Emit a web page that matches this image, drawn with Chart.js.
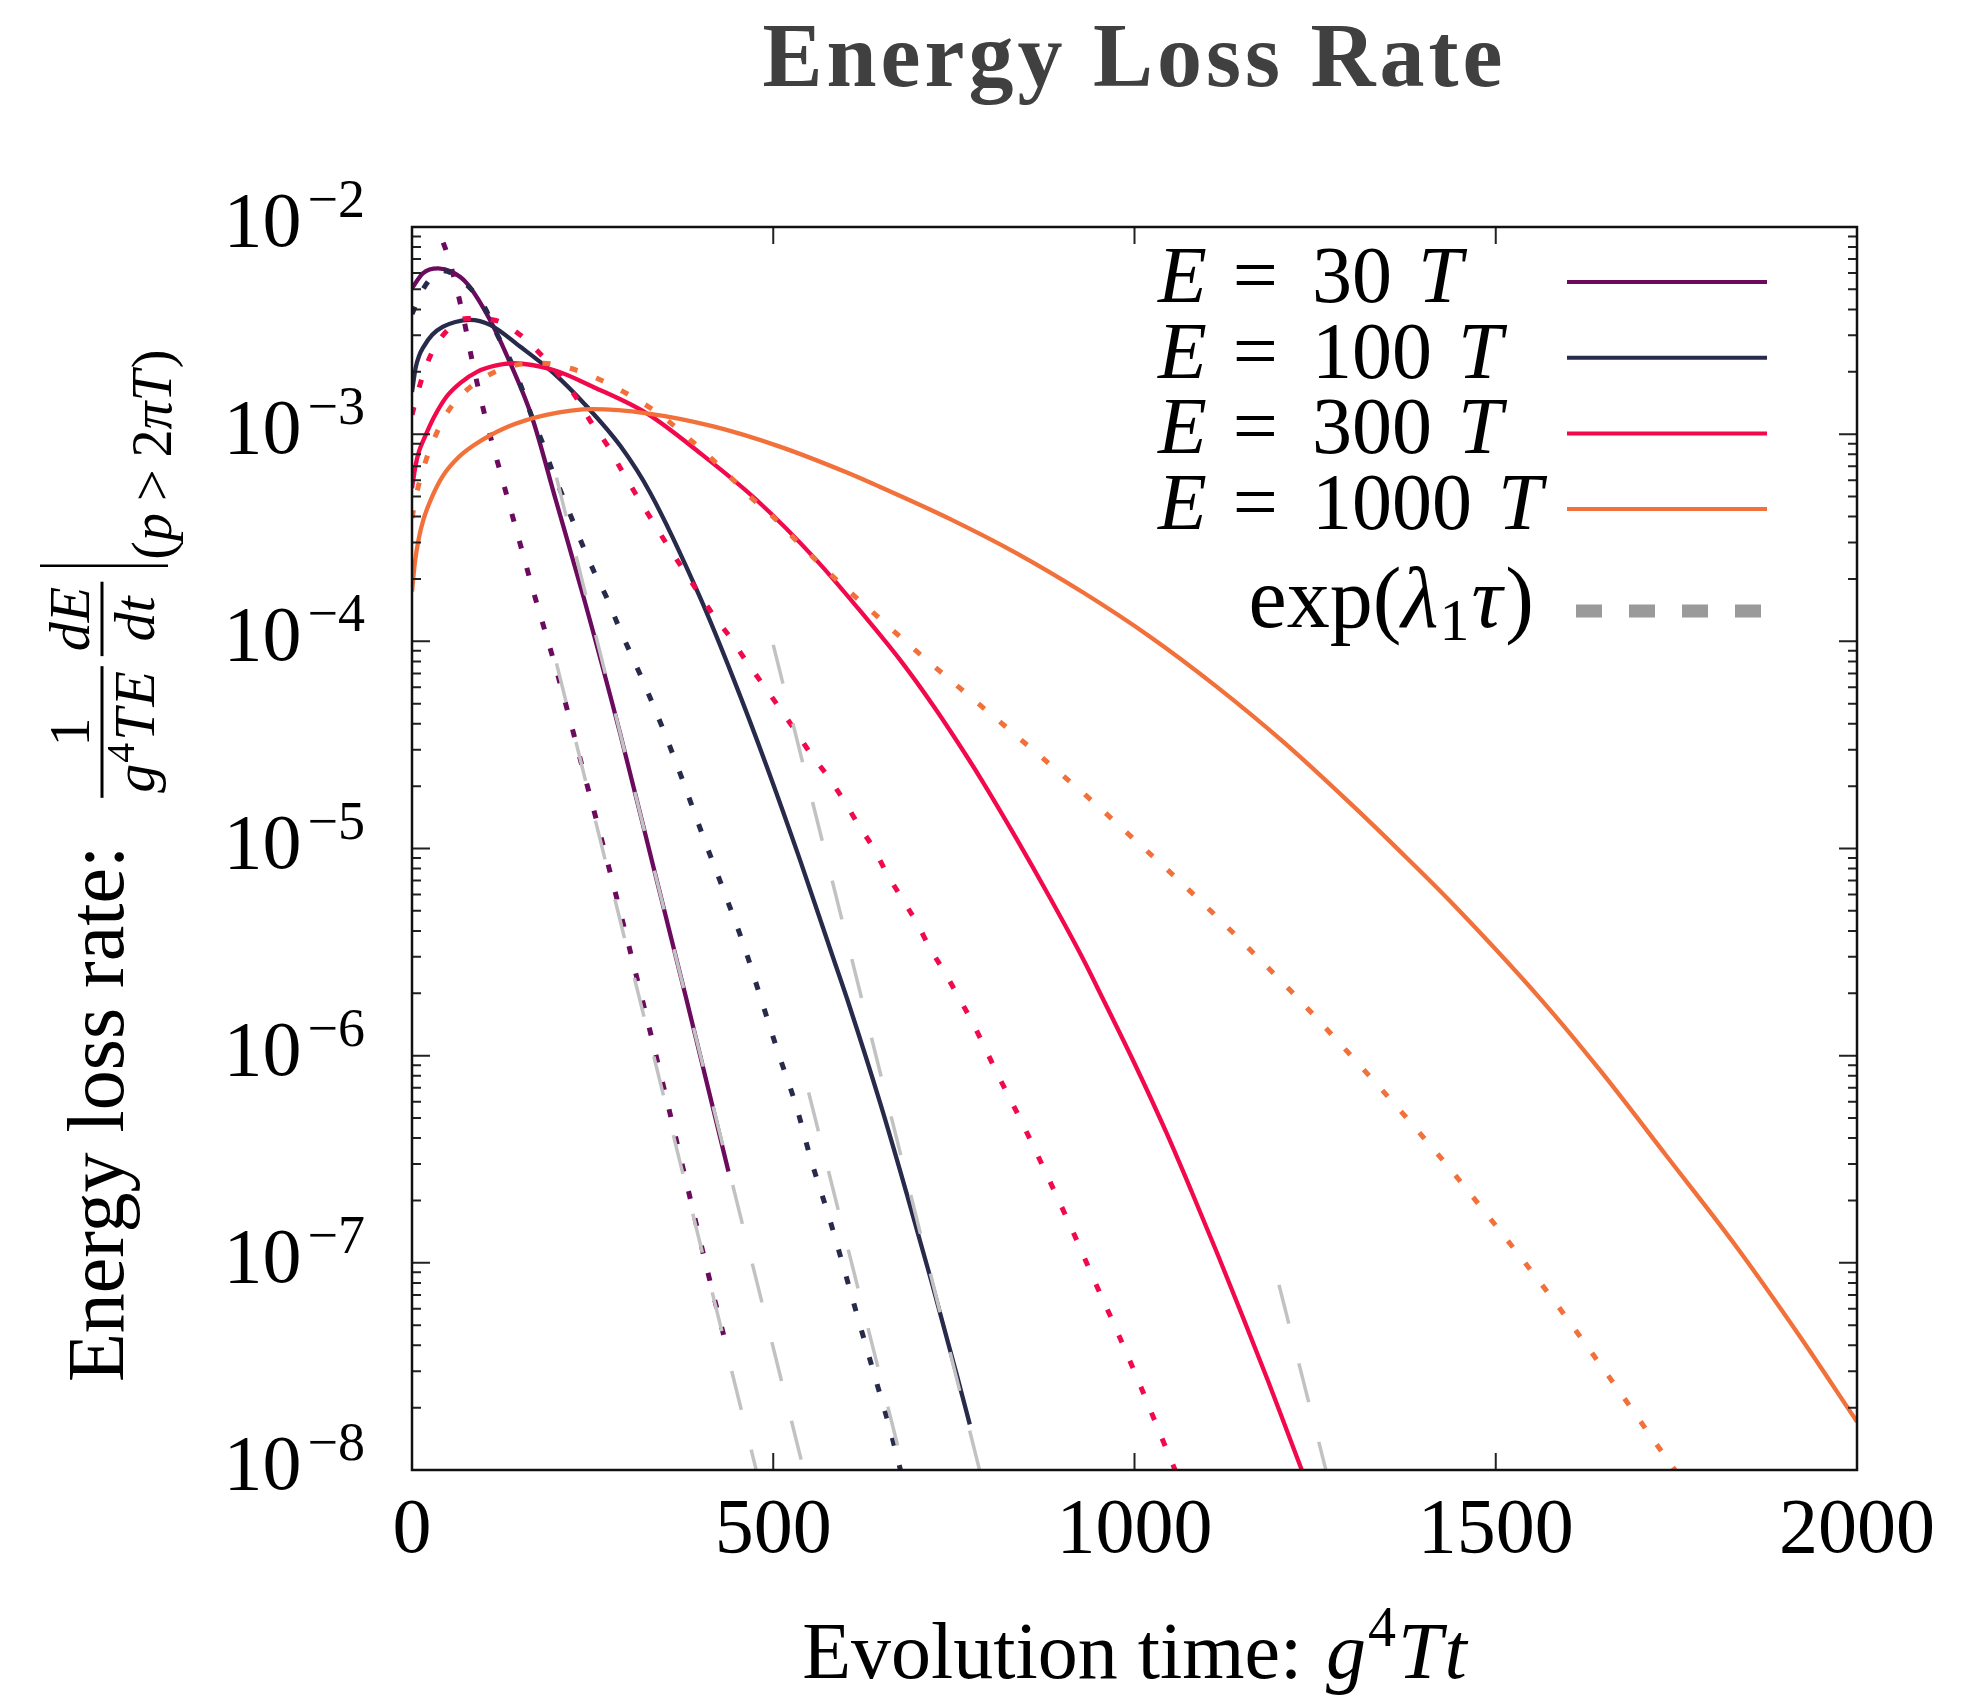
<!DOCTYPE html>
<html>
<head>
<meta charset="utf-8">
<title>Energy Loss Rate</title>
<script src="https://cdn.jsdelivr.net/npm/chart.js@4.4.1/dist/chart.umd.min.js"></script>
<style>
  html, body { margin: 0; padding: 0; background: #fff; }
  #wrap { width: 1982px; height: 1698px; }
</style>
</head>
<body>
<div id="wrap"><canvas id="myChart" width="1982" height="1698"></canvas></div>
<script>
// values (time g^4 T t, rate)
const e30Time = [0, 15, 36, 55, 76, 108, 136, 166, 199, 238, 288, 334, 380, 438];
const e30Rate = [5.06e-3, 5.98e-3, 6.32e-3, 6.08e-3, 5.35e-3, 3.56e-3, 2.20e-3, 1.21e-3, 4.81e-4, 1.61e-4, 3.60e-5, 8.18e-6, 1.86e-6, 2.76e-7];
const e30DotTime = [28, 36, 50, 69, 85, 103, 124, 145, 168, 200, 221, 239, 260, 279, 316, 352, 380, 408, 438];
const e30DotRate = [1.12e-2, 9.68e-3, 7.19e-3, 3.97e-3, 2.12e-3, 1.15e-3, 6.24e-4, 3.39e-4, 1.74e-4, 7.24e-5, 3.89e-5, 2.24e-5, 1.19e-5, 6.61e-6, 2.04e-6, 6.24e-7, 2.43e-7, 9.44e-8, 3.63e-8];

const e100Time = [0, 5, 10, 16, 28, 43, 60, 80, 108, 150, 196, 242, 288, 330, 399, 445, 491, 537, 583, 604, 649, 684, 719, 754, 772];
const e100Rate = [1.60e-3, 2.09e-3, 2.40e-3, 2.64e-3, 3.02e-3, 3.30e-3, 3.48e-3, 3.56e-3, 3.37e-3, 2.64e-3, 1.97e-3, 1.36e-3, 8.81e-4, 5.19e-4, 1.62e-4, 6.59e-5, 2.49e-5, 8.81e-6, 2.96e-6, 1.80e-6, 5.75e-7, 2.20e-7, 8.13e-8, 2.88e-8, 1.66e-8];
const e100DotTime = [0, 16, 43, 76, 101, 117, 136, 152, 166, 180, 193, 207, 223, 237, 253, 270, 286, 318, 348, 376, 403, 431, 459, 482, 507, 532, 553, 577, 599, 620, 642, 663, 678];
const e100DotRate = [3.80e-3, 5.06e-3, 6.15e-3, 5.25e-3, 4.06e-3, 3.07e-3, 2.28e-3, 1.67e-3, 1.21e-3, 9.20e-4, 6.84e-4, 5.19e-4, 3.78e-4, 2.86e-4, 2.13e-4, 1.61e-4, 1.18e-4, 6.64e-5, 3.73e-5, 2.07e-5, 1.14e-5, 6.31e-6, 3.43e-6, 1.93e-6, 1.03e-6, 5.68e-7, 3.08e-7, 1.67e-7, 9.08e-8, 5.01e-8, 2.72e-8, 1.51e-8, 9.4e-9];

const e300Time = [0, 5, 10, 16, 30, 48, 68, 90, 115, 140, 196, 251, 325, 399, 477, 560, 629, 675, 722, 768, 791, 837, 883, 929, 955, 1002, 1044, 1079, 1115, 1150, 1185, 1214, 1235];
const e300Rate = [5.48e-4, 7.08e-4, 8.32e-4, 9.38e-4, 1.20e-3, 1.52e-3, 1.78e-3, 2.00e-3, 2.14e-3, 2.20e-3, 2.04e-3, 1.69e-3, 1.26e-3, 8.09e-4, 4.81e-4, 2.46e-4, 1.29e-4, 8.18e-5, 4.86e-5, 2.78e-5, 2.07e-5, 1.11e-5, 5.78e-6, 2.92e-6, 1.92e-6, 8.87e-7, 4.26e-7, 2.21e-7, 1.10e-7, 5.47e-8, 2.68e-8, 1.45e-8, 9.3e-9];
const e300DotTime = [0, 11, 25, 43, 76, 113, 150, 177, 205, 228, 246, 270, 290, 309, 329, 352, 373, 394, 417, 440, 463, 486, 509, 533, 553, 576, 597, 618, 639, 657, 678, 699, 717, 738, 756, 776, 811, 846, 882, 913, 945, 977, 1009, 1037, 1060];
const e300DotRate = [1.24e-3, 1.73e-3, 2.37e-3, 3.01e-3, 3.62e-3, 3.56e-3, 3.01e-3, 2.45e-3, 1.90e-3, 1.49e-3, 1.17e-3, 8.87e-4, 6.71e-4, 5.19e-4, 4.00e-4, 2.97e-4, 2.29e-4, 1.77e-4, 1.34e-4, 1.05e-4, 7.98e-5, 6.17e-5, 4.75e-5, 3.60e-5, 2.83e-5, 2.22e-5, 1.72e-5, 1.30e-5, 1.00e-5, 7.60e-6, 5.75e-6, 4.36e-6, 3.30e-6, 2.50e-6, 1.93e-6, 1.44e-6, 8.07e-7, 4.62e-7, 2.51e-7, 1.46e-7, 8.13e-8, 4.58e-8, 2.51e-8, 1.45e-8, 9.3e-9];

const e1000Time = [0, 4, 9, 16, 28, 43, 62, 85, 131, 186, 251, 325, 417, 509, 602, 648, 745, 837, 929, 1022, 1114, 1206, 1298, 1368, 1437, 1563, 1644, 1737, 1829, 1921, 2000];
const e1000Rate = [1.74e-4, 2.40e-4, 3.09e-4, 3.89e-4, 5.01e-4, 6.31e-4, 7.59e-4, 8.81e-4, 1.08e-3, 1.24e-3, 1.32e-3, 1.26e-3, 1.09e-3, 8.71e-4, 6.53e-4, 5.56e-4, 3.89e-4, 2.66e-4, 1.72e-4, 1.05e-4, 6.03e-5, 3.27e-5, 1.66e-5, 9.66e-6, 5.56e-6, 1.86e-6, 8.53e-7, 3.26e-7, 1.25e-7, 4.41e-8, 1.71e-8];
const e1000DotTime = [0, 6.5, 18, 32, 48, 73, 106, 145, 182, 219, 256, 293, 320, 353, 380, 412, 440, 468, 500, 528, 583, 641, 699, 758, 821, 881, 941, 998, 1058, 1114, 1169, 1225, 1277, 1330, 1384, 1434, 1485, 1534, 1582, 1628, 1674, 1720, 1752];
const e1000DotRate = [3.94e-4, 5.19e-4, 7.24e-4, 9.73e-4, 1.26e-3, 1.60e-3, 1.93e-3, 2.16e-3, 2.20e-3, 2.08e-3, 1.86e-3, 1.60e-3, 1.41e-3, 1.17e-3, 9.73e-4, 7.78e-4, 6.24e-4, 4.99e-4, 3.98e-4, 3.16e-4, 2.05e-4, 1.35e-4, 8.91e-5, 5.96e-5, 3.89e-5, 2.58e-5, 1.70e-5, 1.12e-5, 7.19e-6, 4.68e-6, 3.02e-6, 1.91e-6, 1.22e-6, 7.64e-7, 4.68e-7, 2.92e-7, 1.76e-7, 1.07e-7, 6.46e-8, 3.89e-8, 2.32e-8, 1.37e-8, 9.55e-9];

// exp(lambda_1 tau) fits: start and end of each straight (log) segment
const fitTime = [[200, 545], [200, 480], [549, 684], [500, 790], [1200, 1270]];
const fitRate = [[6.17e-4, 9.12e-9], [7.83e-5, 8.9e-9], [6.64e-7, 9.0e-9], [9.62e-5, 8.65e-9], [7.83e-8, 8.5e-9]];

const legendEnergies = ['30', '100', '300', '1000'];
const seriesColors = ['#6c0a5e', '#272a4a', '#f2094c', '#f2703a'];
const xTicks = [0, 500, 1000, 1500, 2000];
const yTicks = [1e-2, 1e-3, 1e-4, 1e-5, 1e-6, 1e-7, 1e-8];
const yTickPowers = ['\u22122', '\u22123', '\u22124', '\u22125', '\u22126', '\u22127', '\u22128'];

const serif = '"Liberation Serif", "Times New Roman", serif';

function pts(t, v) {
  return t.map(function (x, i) { return { x: x, y: v[i] }; });
}

const solidSets = [[e30Time, e30Rate], [e100Time, e100Rate], [e300Time, e300Rate], [e1000Time, e1000Rate]];
const dotSets = [[e30DotTime, e30DotRate], [e100DotTime, e100DotRate], [e300DotTime, e300DotRate], [e1000DotTime, e1000DotRate]];

const datasets = [];
solidSets.forEach(function (s, i) {
  datasets.push({
    data: pts(s[0], s[1]), borderColor: seriesColors[i], borderWidth: 4.3,
    cubicInterpolationMode: 'monotone', order: 8 - 2 * i
  });
  datasets.push({
    data: pts(dotSets[i][0], dotSets[i][1]), borderColor: seriesColors[i], borderWidth: 5,
    borderDash: [8, 20], cubicInterpolationMode: 'monotone', order: 7 - 2 * i
  });
});
fitTime.forEach(function (t, i) {
  datasets.push({
    data: pts(t, fitRate[i]), borderColor: '#c2c2c2', borderWidth: 3.5,
    borderDash: [40, 41], order: 0
  });
});

// draw a run of text pieces: [text, font, dy, gapAfter]
function drawRuns(ctx, x, y, parts) {
  parts.forEach(function (p) {
    ctx.font = p[1];
    ctx.fillText(p[0], x, y + (p[2] || 0));
    x += ctx.measureText(p[0]).width + (p[3] || 0);
  });
  return x;
}
function runsWidth(ctx, parts) {
  let w = 0;
  parts.forEach(function (p) {
    ctx.font = p[1];
    w += ctx.measureText(p[0]).width + (p[3] || 0);
  });
  return w;
}

const decorPlugin = {
  id: 'decor',
  afterDraw: function (chart) {
    const ctx = chart.ctx;
    const a = chart.chartArea;
    const xs = chart.scales.x, ys = chart.scales.y;
    ctx.save();

    // inward ticks, both sides
    ctx.strokeStyle = '#222';
    ctx.lineWidth = 2;
    ctx.beginPath();
    xTicks.forEach(function (v) {
      const px = xs.getPixelForValue(v);
      ctx.moveTo(px, a.bottom); ctx.lineTo(px, a.bottom - 17);
      ctx.moveTo(px, a.top); ctx.lineTo(px, a.top + 17);
    });
    yTicks.forEach(function (v, i) {
      const py = ys.getPixelForValue(v);
      ctx.moveTo(a.left, py); ctx.lineTo(a.left + 18, py);
      ctx.moveTo(a.right, py); ctx.lineTo(a.right - 18, py);
      if (i < yTicks.length - 1) {
        for (let k = 2; k <= 9; k++) {
          const pm = ys.getPixelForValue(yTicks[i + 1] * k);
          ctx.moveTo(a.left, pm); ctx.lineTo(a.left + 9, pm);
          ctx.moveTo(a.right, pm); ctx.lineTo(a.right - 9, pm);
        }
      }
    });
    ctx.stroke();

    ctx.strokeStyle = '#111';
    ctx.lineWidth = 2.5;
    ctx.strokeRect(a.left, a.top, a.right - a.left, a.bottom - a.top);

    ctx.fillStyle = '#000';
    ctx.textBaseline = 'alphabetic';

    // x tick labels
    ctx.textAlign = 'center';
    ctx.font = '78px ' + serif;
    xTicks.forEach(function (v) {
      ctx.fillText(String(v), xs.getPixelForValue(v), 1552);
    });

    // y tick labels 10^n
    ctx.textAlign = 'left';
    yTicks.forEach(function (v, i) {
      const py = ys.getPixelForValue(v);
      const parts = [['10', '78px ' + serif, 0, 6], [yTickPowers[i], '54px ' + serif, -29, 0]];
      const w = runsWidth(ctx, parts);
      drawRuns(ctx, 365 - w, py + 19, parts);
    });

    // x axis title
    const xt = [['Evolution time: ', '80px ' + serif, 0, 4], ['g', 'italic 80px ' + serif, 0, 2],
      ['4', '56px ' + serif, -32, 2], ['T', 'italic 80px ' + serif, 0, 2], ['t', 'italic 80px ' + serif, 0, 0]];
    const xw = runsWidth(ctx, xt);
    drawRuns(ctx, (a.left + a.right) / 2 - xw / 2, 1678, xt);

    // y axis title, rotated
    ctx.save();
    ctx.translate(123, 1382);
    ctx.rotate(-Math.PI / 2);
    let u = drawRuns(ctx, 0, 0, [['Energy loss rate:', '80px ' + serif, 0, 0]]);
    u += 48;
    const fr = '58px ' + serif, fi = 'italic 58px ' + serif;
    const fracs = [
      [[['1', fr]], [['g', fi, 0, 1], ['4', '40px ' + serif, -20, 2], ['T', fi, 0, 2], ['E', fi]]],
      [[['d', fi], ['E', fi]], [['d', fi], ['t', fi]]]
    ];
    ctx.lineWidth = 3;
    ctx.strokeStyle = '#000';
    fracs.forEach(function (f) {
      const wn = runsWidth(ctx, f[0]), wd = runsWidth(ctx, f[1]);
      const bw = Math.max(wn, wd) + 10;
      ctx.beginPath(); ctx.moveTo(u, -21); ctx.lineTo(u + bw, -21); ctx.stroke();
      drawRuns(ctx, u + (bw - wn) / 2, -34, f[0]);
      drawRuns(ctx, u + (bw - wd) / 2, 31, f[1]);
      u += bw + 10;
    });
    u += 6;
    ctx.lineWidth = 2.5;
    ctx.beginPath(); ctx.moveTo(u, -83); ctx.lineTo(u, 45); ctx.stroke();
    u += 6;
    const sr = '56px ' + serif, si = 'italic 56px ' + serif;
    drawRuns(ctx, u, 48, [['(', sr], ['p', si, 0, 12], ['>', sr, 0, 12], ['2', sr], ['\u03c0', si], ['T', si, 0, 2], [')', sr]]);
    ctx.restore();

    // legend
    legendEnergies.forEach(function (e, i) {
      const by = 302 + i * 75.7;
      drawRuns(ctx, 1158, by, [['E', 'italic 80px ' + serif, 0, 26], ['=', '80px ' + serif, 0, 34],
        [e, '80px ' + serif, 0, 26], ['T', 'italic 80px ' + serif]]);
      ctx.strokeStyle = seriesColors[i];
      ctx.lineWidth = 4;
      ctx.beginPath(); ctx.moveTo(1567, by - 20); ctx.lineTo(1767, by - 20); ctx.stroke();
    });
    const ex = [['exp(', '86px ' + serif], ['\u03bb', 'italic 86px ' + serif, 0, 1], ['1', '60px ' + serif, 13, 2],
      ['\u03c4', 'italic 86px ' + serif, 0, 3], [')', '86px ' + serif]];
    drawRuns(ctx, 1534 - runsWidth(ctx, ex), 627, ex);
    ctx.strokeStyle = '#9a9a9a';
    ctx.lineWidth = 13;
    ctx.setLineDash([26, 27]);
    ctx.beginPath(); ctx.moveTo(1576, 611); ctx.lineTo(1762, 611); ctx.stroke();
    ctx.setLineDash([]);

    // title
    ctx.fillStyle = '#404040';
    ctx.textAlign = 'center';
    ctx.font = 'bold 90px ' + serif;
    ctx.letterSpacing = '4px';
    ctx.fillText('Energy Loss Rate', (a.left + a.right) / 2, 86);
    ctx.letterSpacing = '0px';

    ctx.restore();
  }
};

const config = {
  type: 'line',
  data: { datasets: datasets },
  options: {
    responsive: false,
    animation: false,
    devicePixelRatio: 1,
    layout: { padding: { left: 412, top: 227, right: 125, bottom: 228 } },
    elements: { point: { radius: 0 }, line: { borderCapStyle: 'butt' } },
    plugins: { legend: { display: false }, title: { display: false }, tooltip: { enabled: false } },
    scales: {
      x: { type: 'linear', min: 0, max: 2000, display: false },
      y: { type: 'logarithmic', min: 1e-8, max: 1e-2, display: false }
    }
  },
  plugins: [decorPlugin]
};

const myChart = new Chart(document.getElementById('myChart'), config);
</script>
</body>
</html>
